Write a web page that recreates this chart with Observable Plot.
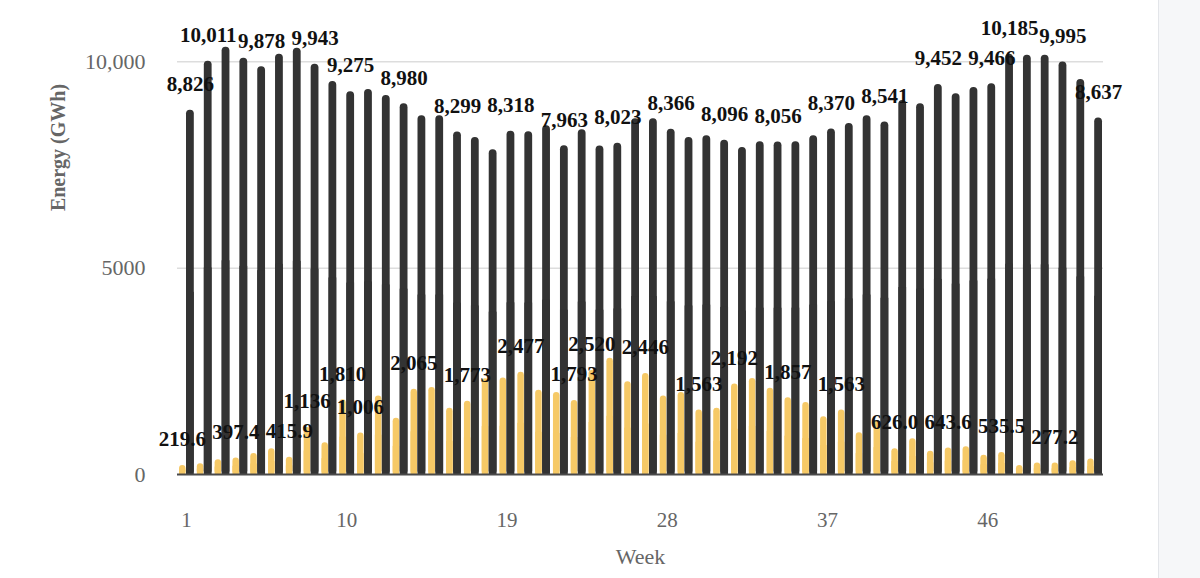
<!DOCTYPE html>
<html>
<head>
<meta charset="utf-8">
<script src="https://cdn.jsdelivr.net/npm/d3@7"></script>
<script src="https://cdn.jsdelivr.net/npm/@observablehq/plot@0.6"></script>
<style>
  html, body { margin: 0; padding: 0; background: #ffffff; }
  #wrap { position: relative; width: 1200px; height: 578px; overflow: hidden; }
  #chart { position: absolute; left: 0; top: 0; }
  #side { position: absolute; left: 1158px; top: 0; width: 42px; height: 578px; background: #f6f7f9; border-left: 1px solid #e3e5e9; box-sizing: border-box; }
</style>
</head>
<body>
<div id="wrap"><div id="chart"></div><div id="side"></div></div>
<script>
// Categories: week numbers
const weeks = [1,2,3,4,5,6,7,8,9,10,11,12,13,14,15,16,17,18,19,20,21,22,23,24,25,26,
  27,28,29,30,31,32,33,34,35,36,37,38,39,40,41,42,43,44,45,46,47,48,49,50,51,52];

// Dark series (weekly energy, GWh)
const totalEnergy = [8826,10011,10354,10085,9878,10183,10329,9943,9524,9275,9330,9183,8980,
  8695,8695,8299,8166,7866,8318,8305,8451,7963,8354,7960,8023,8622,8622,8366,8166,8207,
  8096,7922,8061,8056,8061,8207,8370,8507,8695,8541,9061,8980,9452,9224,9378,9466,10185,
  10159,10159,9995,9573,8637];

// Yellow series (weekly energy, GWh)
const yellowEnergy = [219.6,263,360,397.4,507,621,415.9,1136,768,1810,1006,1904,1360,2065,
  2110,1604,1773,2320,2336,2477,2043,1987,1793,2520,2817,2246,2446,1904,1987,1563,1604,
  2192,2329,2092,1857,1743,1402,1563,1012,1300,626.0,865,563,643.6,670,465,535.5,221,280,
  277.2,336,378];

// Weeks that carry a value label
const darkLabelWeeks = [1,2,5,8,10,13,16,19,22,25,28,31,34,37,40,43,46,47,50,52];
const yellowLabelWeeks = [1,4,7,8,10,11,14,17,20,23,24,27,30,32,35,38,41,44,47,50];

// Axis ticks
const xTicks = [1,10,19,28,37,46];
const yTicks = [0,5000,10000];
const yTickLabels = ["0","5000","10,000"];
const yGrid = [5000,10000];

const xTitle = "Week";
const yTitle = "Energy (GWh)";

const darkColor = "#333333";
const yellowColor = "#f6c966";

const darkRows = weeks.map((w, i) => ({week: w, value: totalEnergy[i]}));
const yellowRows = weeks.map((w, i) => ({week: w, value: yellowEnergy[i]}));
const darkLabels = darkRows.filter(d => darkLabelWeeks.includes(d.week));
const yellowLabels = yellowRows.filter(d => yellowLabelWeeks.includes(d.week));

const fmtLabel = v => v >= 1000 ? d3.format(",")(Math.round(v)) : v.toFixed(1);

const serif = "'Liberation Serif', 'Times New Roman', Times, serif";

const chart = Plot.plot({
  width: 1158,
  height: 578,
  marginLeft: 177,
  marginRight: 55,
  marginTop: 20,
  marginBottom: 104,
  x: {type: "band", domain: weeks, padding: 0, axis: null},
  y: {domain: [0, 11000], axis: null},
  style: {fontFamily: serif, fontSize: "21px", background: "#ffffff", overflow: "visible"},
  marks: [
    Plot.gridY(yGrid, {stroke: "#dddddd", strokeOpacity: 1, strokeWidth: 1.5}),
    Plot.axisY(yTicks, {
      tickSize: 0, tickPadding: 32, label: null,
      tickFormat: d => yTickLabels[yTicks.indexOf(d)],
      fill: "#666666", fontSize: 22
    }),
    Plot.axisX(xTicks, {tickSize: 0, tickPadding: 38, label: null, fill: "#666666", fontSize: 21}),
    // yellow bars (rounded top + square lower part)
    Plot.barY(yellowRows, {x: "week", y: "value", fill: yellowColor, insetLeft: 2, insetRight: 9.3, rx: 3.4}),
    Plot.barY(yellowRows, {x: "week", y1: 0, y2: d => d.value / 2, fill: yellowColor, insetLeft: 2, insetRight: 9.3}),
    // dark bars
    Plot.barY(darkRows, {x: "week", y: "value", fill: darkColor, insetLeft: 9, insetRight: 1, rx: 3.8}),
    Plot.barY(darkRows, {x: "week", y1: 0, y2: d => d.value / 2, fill: darkColor, insetLeft: 9, insetRight: 1}),
    Plot.ruleY([0], {stroke: "#4a4a4a", strokeWidth: 2}),
    // value labels
    Plot.text(yellowLabels, {
      x: "week", y: "value", text: d => fmtLabel(d.value),
      dx: -4, dy: -26, fontSize: 21, fontWeight: "bold", fill: "#111111"
    }),
    Plot.text(darkLabels, {
      x: "week", y: "value", text: d => fmtLabel(d.value),
      dx: 4, dy: -26, fontSize: 21, fontWeight: "bold", fill: "#111111"
    }),
    // axis titles
    Plot.text([yTitle], {
      frameAnchor: "top-left", textAnchor: "middle", lineAnchor: "middle",
      dx: -119, dy: 127, rotate: -90, fontSize: 20, fontWeight: "bold", fill: "#666666"
    }),
    Plot.text([xTitle], {
      frameAnchor: "bottom", textAnchor: "middle", lineAnchor: "middle",
      dy: 82, fontSize: 22, fill: "#666666"
    })
  ]
});

document.getElementById("chart").appendChild(chart);
</script>
</body>
</html>
